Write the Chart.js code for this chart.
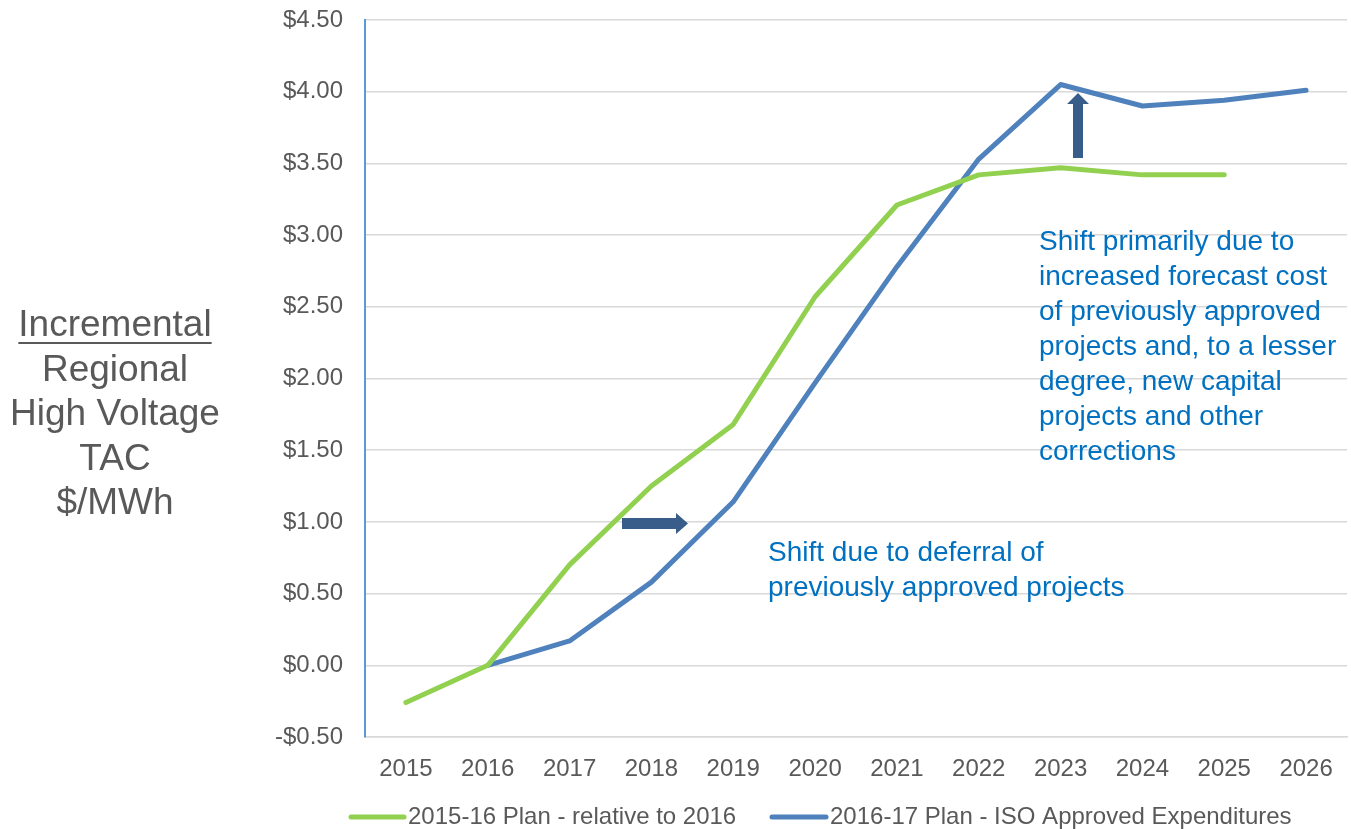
<!DOCTYPE html>
<html>
<head>
<meta charset="utf-8">
<script src="https://cdn.jsdelivr.net/npm/chart.js@4.4.1/dist/chart.umd.min.js"></script>
<style>
  html, body { margin: 0; padding: 0; background: #fff; }
  #wrap { width: 1351px; height: 829px; position: relative; }
</style>
</head>
<body>
<div id="wrap"><canvas id="chartTac"></canvas></div>
<script>
// datos
const anios = ['2015', '2016', '2017', '2018', '2019', '2020', '2021', '2022', '2023', '2024', '2025', '2026'];
const plan1516 = [-0.26, 0.00, 0.70, 1.25, 1.68, 2.57, 3.21, 3.42, 3.47, 3.42, 3.42, null];
const plan1617 = [null, 0.00, 0.17, 0.58, 1.14, 1.97, 2.78, 3.53, 4.05, 3.90, 3.94, 4.01];
const etiquetas = ['2015-16 Plan - relative to 2016', '2016-17 Plan - ISO Approved Expenditures'];

const verde = '#92d050';
const azul = '#4f81bd';
const flecha = '#385d8a';
const gris = '#595959';
const azulTexto = '#0070c0';
const fuente = 'Arial, "Liberation Sans", sans-serif';

Chart.defaults.font.family = fuente;
Chart.defaults.color = gris;

function dibujarTexto(ctx, lineas, x, y, paso, size, color, align) {
    ctx.save();
    ctx.font = size + 'px ' + fuente;
    ctx.fillStyle = color;
    ctx.textAlign = align;
    ctx.textBaseline = 'middle';
    lineas.forEach((t, i) => ctx.fillText(t, x, y + i * paso));
    ctx.restore();
}

// titulo, anotaciones, flechas y leyenda
const extras = {
    id: 'extras',
    afterDraw(chart) {
        const ctx = chart.ctx;

        // titulo del eje a la izquierda
        dibujarTexto(ctx, ['Incremental', 'Regional', 'High Voltage', 'TAC', '$/MWh'], 115, 326, 44.5, 37, gris, 'center');
        ctx.save();
        ctx.font = '37px ' + fuente;
        const w = ctx.measureText('Incremental').width;
        ctx.fillStyle = gris;
        ctx.fillRect(115 - w / 2, 342, w, 2);
        ctx.restore();

        // textos azules
        dibujarTexto(ctx, ['Shift primarily due to', 'increased forecast cost', 'of previously approved',
            'projects and, to a lesser', 'degree, new capital', 'projects and other', 'corrections'],
            1039, 242, 35, 28, azulTexto, 'left');
        dibujarTexto(ctx, ['Shift due to deferral of', 'previously approved projects'], 768, 553, 35, 28, azulTexto, 'left');

        ctx.save();
        ctx.fillStyle = flecha;
        // flecha horizontal
        ctx.beginPath();
        ctx.moveTo(622, 518);
        ctx.lineTo(676, 518);
        ctx.lineTo(676, 513);
        ctx.lineTo(688, 523.5);
        ctx.lineTo(676, 534);
        ctx.lineTo(676, 529);
        ctx.lineTo(622, 529);
        ctx.closePath();
        ctx.fill();
        // flecha vertical
        ctx.beginPath();
        ctx.moveTo(1073, 158);
        ctx.lineTo(1073, 104);
        ctx.lineTo(1067, 104);
        ctx.lineTo(1078, 93);
        ctx.lineTo(1089, 104);
        ctx.lineTo(1083, 104);
        ctx.lineTo(1083, 158);
        ctx.closePath();
        ctx.fill();
        ctx.restore();

        // leyenda
        const items = [[351, 404, verde], [772, 826, azul]];
        ctx.save();
        ctx.lineWidth = 5;
        ctx.lineCap = 'round';
        items.forEach((it, i) => {
            ctx.strokeStyle = it[2];
            ctx.beginPath();
            ctx.moveTo(it[0], 817);
            ctx.lineTo(it[1], 817);
            ctx.stroke();
            dibujarTexto(ctx, [etiquetas[i]], it[1] + 4, 817, 0, 24, gris, 'left');
        });
        ctx.restore();
    }
};

const ctxTac = document.getElementById('chartTac').getContext('2d');
const chartTac = new Chart(ctxTac, {
    type: 'line',
    data: {
        labels: anios,
        datasets: [{
            label: etiquetas[0],
            data: plan1516,
            borderColor: verde,
            backgroundColor: verde,
            borderWidth: 5,
            pointRadius: 0,
            borderCapStyle: 'round',
            borderJoinStyle: 'round',
            tension: 0
        }, {
            label: etiquetas[1],
            data: plan1617,
            borderColor: azul,
            backgroundColor: azul,
            borderWidth: 5,
            pointRadius: 0,
            borderCapStyle: 'round',
            borderJoinStyle: 'round',
            tension: 0
        }]
    },
    options: {
        responsive: true,
        maintainAspectRatio: false,
        animation: false,
        layout: { padding: { top: 20, right: 4, left: 0, bottom: 0 } },
        plugins: {
            legend: { display: false },
            tooltip: { enabled: false }
        },
        scales: {
            x: {
                offset: true,
                grid: { display: false, drawTicks: false },
                border: { color: '#d9d9d9', width: 1.5 },
                ticks: { padding: 18, font: { size: 24 }, color: gris, maxRotation: 0 },
                afterFit(scale) {
                    scale.height = 92;
                    scale.paddingLeft = 0;
                    scale.paddingRight = 0;
                }
            },
            y: {
                min: -0.5,
                max: 4.5,
                grid: { color: '#d9d9d9', lineWidth: 1.5, drawTicks: false },
                border: { color: '#5b9bd5', width: 2 },
                ticks: {
                    stepSize: 0.5,
                    padding: 22,
                    font: { size: 24 },
                    color: gris,
                    callback: v => (v < 0 ? '-$' : '$') + Math.abs(v).toFixed(2)
                },
                afterFit(scale) {
                    scale.width = 365;
                    scale.paddingTop = 0;
                    scale.paddingBottom = 0;
                }
            }
        }
    },
    plugins: [extras]
});
</script>
</body>
</html>
